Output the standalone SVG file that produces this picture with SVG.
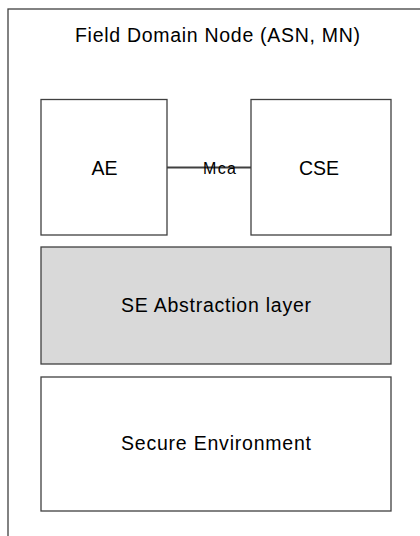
<svg xmlns="http://www.w3.org/2000/svg" width="420" height="536" viewBox="0 0 420 536">
<style>
.box{fill:#ffffff;stroke:#404040;stroke-width:1.3}
.gray{fill:#d9d9d9;stroke:#404040;stroke-width:1.3}
.t{font-family:"Liberation Sans",Arial,sans-serif;font-size:19.5px;fill:#000}
.s{font-family:"Liberation Sans",Arial,sans-serif;font-size:16px;fill:#000}
</style>
<rect width="420" height="536" fill="#ffffff"/>
<g id="field-domain-node">
<rect class="box" x="8" y="9" width="430" height="560"/>
<text class="t" x="75" y="41.5" textLength="285" lengthAdjust="spacing">Field Domain Node (ASN, MN)</text>
</g>
<g id="connectors">
<line x1="167" y1="167.5" x2="251" y2="167.5" stroke="#404040" stroke-width="2"/>
<text class="s" x="203" y="174" textLength="33" lengthAdjust="spacing">Mca</text>
</g>
<g id="ae">
<rect class="box" x="41" y="99.5" width="126" height="135.5"/>
<text class="t" x="91.5" y="175" textLength="26" lengthAdjust="spacing">AE</text>
</g>
<g id="cse">
<rect class="box" x="251" y="99.5" width="140" height="135.5"/>
<text class="t" x="299" y="175">CSE</text>
</g>
<g id="se-abstraction">
<rect class="gray" x="41" y="247" width="350" height="117"/>
<text class="t" x="121" y="312" textLength="190" lengthAdjust="spacing">SE Abstraction layer</text>
</g>
<g id="secure-environment">
<rect class="box" x="41" y="377" width="350" height="134"/>
<text class="t" x="121" y="450" textLength="190" lengthAdjust="spacing">Secure Environment</text>
</g>
</svg>
